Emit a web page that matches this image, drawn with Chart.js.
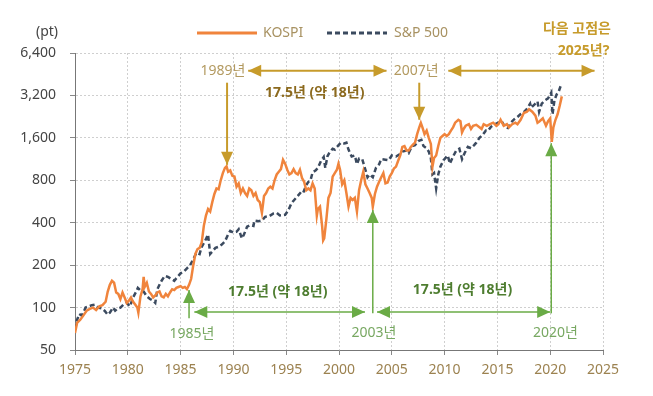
<!DOCTYPE html>
<html>
<head>
<meta charset="utf-8">
<script src="https://cdn.jsdelivr.net/npm/chart.js@4"></script>
<style>
  html, body { margin: 0; padding: 0; background: #fff; }
</style>
</head>
<body>
<canvas id="chart" width="653" height="396"></canvas>
<script>
// KOSPI (orange, solid)
const kospiYears = [
  1975.0, 1975.2, 1975.5, 1975.8, 1976.1, 1976.4, 1976.7, 1977.0, 1977.3, 1977.6, 1977.9,
  1978.1, 1978.3, 1978.5, 1978.7, 1978.9, 1979.1, 1979.3, 1979.5, 1979.7, 1979.9,
  1980.1, 1980.3, 1980.5, 1980.7, 1980.9, 1981.0, 1981.2, 1981.4, 1981.5, 1981.6, 1981.8,
  1982.0, 1982.2, 1982.4, 1982.6, 1982.8, 1983.0, 1983.2, 1983.4, 1983.6, 1983.8,
  1984.0, 1984.2, 1984.4, 1984.6, 1984.8, 1985.0, 1985.2, 1985.4, 1985.6, 1985.8,
  1986.0, 1986.2, 1986.4, 1986.6, 1986.8, 1987.0, 1987.2, 1987.4, 1987.6, 1987.8,
  1988.0, 1988.2, 1988.4, 1988.6, 1988.8, 1989.0, 1989.2, 1989.35, 1989.5, 1989.7, 1989.9,
  1990.1, 1990.3, 1990.5, 1990.7, 1990.9, 1991.1, 1991.3, 1991.5, 1991.7, 1991.9,
  1992.1, 1992.3, 1992.5, 1992.7, 1992.9, 1993.1, 1993.3, 1993.5, 1993.7, 1993.9,
  1994.1, 1994.3, 1994.5, 1994.7, 1994.9, 1995.1, 1995.3, 1995.5, 1995.7, 1995.9,
  1996.1, 1996.3, 1996.5, 1996.7, 1996.9, 1997.1, 1997.3, 1997.5, 1997.7, 1997.9,
  1998.0, 1998.2, 1998.4, 1998.5, 1998.6, 1998.8, 1999.0, 1999.2, 1999.4, 1999.6, 1999.8, 1999.95,
  2000.1, 2000.3, 2000.5, 2000.7, 2000.9, 2001.1, 2001.3, 2001.5, 2001.7, 2001.9,
  2002.1, 2002.3, 2002.5, 2002.7, 2002.9, 2003.1, 2003.2, 2003.4, 2003.6, 2003.8,
  2004.0, 2004.2, 2004.4, 2004.6, 2004.8, 2005.0, 2005.2, 2005.4, 2005.6, 2005.8,
  2006.0, 2006.2, 2006.4, 2006.6, 2006.8, 2007.0, 2007.2, 2007.4, 2007.6, 2007.75, 2007.9,
  2008.1, 2008.3, 2008.5, 2008.7, 2008.85, 2009.0, 2009.2, 2009.4, 2009.6, 2009.8,
  2010.0, 2010.2, 2010.4, 2010.6, 2010.8, 2011.0, 2011.3, 2011.5, 2011.65, 2011.8,
  2012.0, 2012.3, 2012.5, 2012.7, 2013.0, 2013.3, 2013.5, 2013.7, 2014.0, 2014.3, 2014.6, 2014.9,
  2015.1, 2015.3, 2015.6, 2015.9, 2016.1, 2016.4, 2016.7, 2016.9, 2017.2, 2017.5, 2017.8,
  2018.0, 2018.3, 2018.6, 2018.8, 2019.0, 2019.3, 2019.6, 2019.8, 2020.0, 2020.15, 2020.3,
  2020.5, 2020.7, 2020.9, 2021.1
];
const kospiValues = [
  66, 78, 82, 88, 95, 98, 100, 96, 102, 104, 110,
  130, 145, 155, 150, 128, 125, 115, 128, 118, 108,
  112, 118, 110, 105, 100, 92, 120, 135, 165, 140, 150,
  130, 125, 118, 122, 128, 130, 120, 118, 125, 120,
  128, 135, 133, 138, 140, 142, 138, 140, 135, 145,
  160, 200, 240, 260, 265, 290, 380, 450, 500, 480,
  560, 640, 700, 690, 800, 900, 980, 1005, 920, 940, 860,
  850, 720, 760, 650, 700, 650, 620, 700, 680, 620,
  650, 580, 560, 470, 620, 650, 700, 720, 700, 800,
  880, 920, 960, 1120, 1050, 950, 880, 900, 960, 900,
  880, 950, 830, 780, 680, 700, 680, 760, 700, 450,
  500, 520, 380, 300, 310, 420, 600, 650, 850, 900, 950, 1050,
  950, 750, 800, 650, 520, 600, 580, 600, 480, 680,
  800, 920, 750, 700, 650, 600, 520, 640, 720, 780,
  840, 900, 760, 770, 850, 900, 970, 1000, 1100, 1200,
  1380, 1400, 1300, 1300, 1380, 1430, 1480, 1700, 1900, 2040, 1900,
  1700, 1800, 1600, 1450, 1000, 1150, 1200, 1400, 1600, 1650,
  1700, 1650, 1700, 1800, 1900, 2050, 2150, 2100, 1750, 1850,
  1950, 2000, 1850, 1950, 1980, 1900, 1850, 2000, 1950, 2000, 2050, 1950,
  2000, 2150, 1950, 2000, 1900, 2000, 2050, 2000, 2150, 2400, 2450,
  2550, 2450, 2300, 2050, 2100, 2200, 1950, 2100, 2200, 1500, 1900,
  2150, 2350, 2700, 3150
];

// S&P 500 (navy, dashed)
const spYears = [
  1975.0, 1975.2, 1975.4, 1975.6, 1975.8, 1976.0, 1976.3, 1976.6, 1976.9, 1977.2, 1977.5, 1977.8,
  1978.1, 1978.3, 1978.6, 1978.8, 1979.0, 1979.3, 1979.6, 1979.9, 1980.2, 1980.5, 1980.8, 1980.95,
  1981.2, 1981.5, 1981.8, 1982.1, 1982.4, 1982.6, 1982.8, 1983.0, 1983.2, 1983.5, 1983.8,
  1984.1, 1984.4, 1984.7, 1985.0, 1985.3, 1985.6, 1985.9, 1986.2, 1986.5, 1986.8,
  1987.0, 1987.3, 1987.6, 1987.8, 1988.0, 1988.3, 1988.6, 1988.9, 1989.2, 1989.5, 1989.7,
  1990.0, 1990.3, 1990.5, 1990.8, 1991.0, 1991.3, 1991.6, 1991.9, 1992.0, 1992.4, 1992.7,
  1993.0, 1993.4, 1993.8, 1994.1, 1994.4, 1994.9, 1995.2, 1995.5, 1995.8,
  1996.1, 1996.4, 1996.6, 1996.9, 1997.1, 1997.3, 1997.5, 1997.8, 1998.0, 1998.3, 1998.55, 1998.7, 1998.9,
  1999.1, 1999.4, 1999.6, 1999.8, 2000.0, 2000.2, 2000.5, 2000.7, 2000.9,
  2001.2, 2001.5, 2001.7, 2001.9, 2002.2, 2002.5, 2002.7, 2002.9, 2003.2, 2003.5, 2003.8,
  2004.0, 2004.4, 2004.7, 2005.0, 2005.4, 2005.8, 2006.0, 2006.4, 2006.6, 2006.9,
  2007.2, 2007.5, 2007.8, 2008.0, 2008.3, 2008.5, 2008.7, 2008.85, 2009.0, 2009.2, 2009.4, 2009.6, 2009.9,
  2010.3, 2010.5, 2010.8, 2011.1, 2011.4, 2011.65, 2011.9, 2012.2, 2012.5, 2012.8,
  2013.0, 2013.3, 2013.6, 2013.9, 2014.1, 2014.4, 2014.8, 2015.1, 2015.4, 2015.7,
  2016.0, 2016.3, 2016.6, 2016.9, 2017.2, 2017.5, 2017.8, 2018.1, 2018.2, 2018.5, 2018.8, 2018.95,
  2019.2, 2019.5, 2019.8, 2020.1, 2020.22, 2020.4, 2020.6, 2020.8, 2021.0
];
const spValues = [
  70, 82, 90, 88, 92, 100, 102, 104, 105, 100, 99, 95,
  89, 92, 100, 95, 98, 100, 105, 108, 102, 118, 130, 138,
  132, 130, 120, 115, 112, 108, 135, 145, 155, 168, 165,
  160, 155, 165, 175, 180, 190, 200, 220, 245, 240,
  270, 295, 330, 240, 250, 265, 270, 280, 295, 330, 350,
  340, 345, 360, 310, 330, 375, 385, 380, 415, 410, 415,
  440, 445, 465, 470, 450, 455, 490, 550, 585,
  620, 660, 650, 740, 780, 800, 910, 940, 980, 1100, 1170, 980, 1180,
  1260, 1340, 1320, 1380, 1430, 1480, 1460, 1480, 1320,
  1180, 1200, 1040, 1140, 1130, 950, 840, 880, 840, 980, 1040,
  1130, 1120, 1110, 1200, 1180, 1230, 1280, 1300, 1250, 1400,
  1420, 1520, 1550, 1400, 1350, 1280, 1150, 880, 900, 700, 880, 1000, 1110,
  1200, 1050, 1180, 1300, 1340, 1130, 1250, 1380, 1350, 1420,
  1480, 1600, 1680, 1800, 1790, 1920, 2000, 2050, 2100, 1920,
  1880, 2060, 2170, 2250, 2360, 2440, 2570, 2800, 2620, 2750, 2900, 2450,
  2800, 2950, 3050, 3350, 2350, 2950, 3250, 3400, 3750
];

const yTicks = [50, 100, 200, 400, 800, 1600, 3200, 6400];
const xTicks = [1975, 1980, 1985, 1990, 1995, 2000, 2005, 2010, 2015, 2020, 2025];

const FONT = "'Noto Sans', 'Noto Sans CJK KR', sans-serif";
const ORANGE = "#f0843c";
const NAVY = "#3b4a5f";
const GOLD = "#c79b2b";
const GOLD_TEXT = "#b39a60";
const GOLD_BOLD = "#8c6a1e";
const GREEN = "#6aab46";
const GREEN_TEXT = "#78a862";
const GREEN_BOLD = "#4e7d30";

function toPoints(xs, ys) {
  return xs.map((x, i) => ({ x: x, y: ys[i] }));
}

function drawHead(ctx, x1, y1, x2, y2) {
  const len = 13, half = 6;
  const a = Math.atan2(y2 - y1, x2 - x1);
  const bx = x2 - len * Math.cos(a), by = y2 - len * Math.sin(a);
  ctx.beginPath();
  ctx.moveTo(x2, y2);
  ctx.lineTo(bx + half * Math.sin(a), by - half * Math.cos(a));
  ctx.lineTo(bx - half * Math.sin(a), by + half * Math.cos(a));
  ctx.closePath();
  ctx.fill();
}

// from/to are [year, value]; both = heads at both ends
function drawArrow(chart, from, to, color, both, width) {
  const ctx = chart.ctx, xs = chart.scales.x, ys = chart.scales.y;
  const x1 = xs.getPixelForValue(from[0]), y1 = ys.getPixelForValue(from[1]);
  const x2 = xs.getPixelForValue(to[0]), y2 = ys.getPixelForValue(to[1]);
  ctx.save();
  ctx.strokeStyle = color;
  ctx.fillStyle = color;
  ctx.lineWidth = width;
  ctx.beginPath();
  ctx.moveTo(x1, y1);
  ctx.lineTo(x2, y2);
  ctx.stroke();
  drawHead(ctx, x1, y1, x2, y2);
  if (both) drawHead(ctx, x2, y2, x1, y1);
  ctx.restore();
}

function drawLabel(chart, text, at, color, bold, align) {
  const ctx = chart.ctx;
  ctx.save();
  ctx.font = (bold ? "bold " : "") + "14px " + FONT;
  ctx.fillStyle = color;
  ctx.textAlign = align || "center";
  ctx.textBaseline = "middle";
  ctx.fillText(text, chart.scales.x.getPixelForValue(at[0]), chart.scales.y.getPixelForValue(at[1]));
  ctx.restore();
}

const annotationPlugin = {
  id: "annotations",
  afterDraw(chart) {
    const ctx = chart.ctx;

    // legend
    ctx.save();
    ctx.lineWidth = 3;
    ctx.strokeStyle = ORANGE;
    ctx.beginPath();
    ctx.moveTo(197, 33);
    ctx.lineTo(257, 33);
    ctx.stroke();
    ctx.strokeStyle = NAVY;
    ctx.setLineDash([5, 3]);
    ctx.beginPath();
    ctx.moveTo(327, 33);
    ctx.lineTo(387, 33);
    ctx.stroke();
    ctx.setLineDash([]);
    ctx.font = "14px " + FONT;
    ctx.fillStyle = "#a89262";
    ctx.textBaseline = "middle";
    ctx.fillText("KOSPI", 263, 33);
    ctx.fillText("S&P 500", 394, 33);
    ctx.fillStyle = "#444";
    ctx.textAlign = "center";
    ctx.fillText("(pt)", 47, 32);
    ctx.restore();

    // gold: 1989 -> 2007 -> 2025?
    drawArrow(chart, [1989.4, 3940], [1989.4, 1030], GOLD, false, 2);
    drawArrow(chart, [2007.6, 3940], [2007.6, 2150], GOLD, false, 2);
    drawArrow(chart, [1991.4, 4785], [2004.5, 4785], GOLD, true, 2);
    drawArrow(chart, [2010.35, 4785], [2024.2, 4785], GOLD, true, 2);
    drawLabel(chart, "1989년", [1989.0, 4785], GOLD_TEXT, false);
    drawLabel(chart, "2007년", [2007.3, 4785], GOLD_TEXT, false);
    drawLabel(chart, "17.5년 (약 18년)", [1997.7, 3320], GOLD_BOLD, true);
    drawLabel(chart, "다음 고점은", [2025.75, 9460], GOLD, true, "right");
    drawLabel(chart, "2025년?", [2025.6, 6560], GOLD, true, "right");

    // green: 1985 -> 2003 -> 2020
    drawArrow(chart, [1985.8, 84], [1985.8, 133], GREEN, false, 1.5);
    drawArrow(chart, [2003.2, 91], [2003.2, 493], GREEN, false, 1.5);
    drawArrow(chart, [2020.1, 91], [2020.1, 1467], GREEN, false, 1.5);
    drawArrow(chart, [1986.3, 93], [2002.46, 93], GREEN, true, 1.5);
    drawArrow(chart, [2003.6, 93], [2020.0, 93], GREEN, true, 1.5);
    drawLabel(chart, "1985년", [1986.07, 65], GREEN_TEXT, false);
    drawLabel(chart, "2003년", [2003.3, 66], GREEN_TEXT, false);
    drawLabel(chart, "2020년", [2020.5, 66], GREEN_TEXT, false);
    drawLabel(chart, "17.5년 (약 18년)", [1994.2, 129], GREEN_BOLD, true);
    drawLabel(chart, "17.5년 (약 18년)", [2011.7, 133], GREEN_BOLD, true);
  }
};

const ctx = document.getElementById("chart").getContext("2d");
new Chart(ctx, {
  type: "line",
  data: {
    datasets: [
      {
        label: "KOSPI",
        data: toPoints(kospiYears, kospiValues),
        borderColor: ORANGE,
        borderWidth: 2.5,
        pointRadius: 0,
        tension: 0,
        fill: false,
      },
      {
        label: "S&P 500",
        data: toPoints(spYears, spValues),
        borderColor: NAVY,
        borderWidth: 2.5,
        borderDash: [5, 3],
        pointRadius: 0,
        tension: 0,
        fill: false,
      },
    ],
  },
  options: {
    responsive: false,
    animation: false,
    devicePixelRatio: 1,
    layout: { padding: { top: 53, right: 50, left: 0, bottom: 0 } },
    plugins: {
      legend: { display: false },
      tooltip: { enabled: false },
    },
    scales: {
      x: {
        type: "linear",
        min: 1975,
        max: 2025,
        afterBuildTicks: (axis) => { axis.ticks = xTicks.map((v) => ({ value: v })); },
        afterFit: (axis) => { axis.height = 46; },
        ticks: {
          callback: (v) => String(v),
          color: "#9c8250",
          font: { family: FONT, size: 14 },
          padding: 7,
          maxRotation: 0,
        },
        grid: { color: "#cfcfcf", tickLength: 5, tickColor: "#888", tickBorderDash: [] },
        border: { display: true, color: "#777", width: 1, dash: [2, 2] },
      },
      y: {
        type: "logarithmic",
        min: 50,
        max: 6400,
        afterBuildTicks: (axis) => { axis.ticks = yTicks.map((v) => ({ value: v })); },
        afterFit: (axis) => { axis.width = 75; },
        ticks: {
          callback: (v) => Number(v).toLocaleString("en-US"),
          color: "#444",
          font: { family: FONT, size: 14 },
          padding: 14,
        },
        grid: { color: "#cfcfcf", tickLength: 5, tickColor: "#888", tickBorderDash: [] },
        border: { display: true, color: "#777", width: 1, dash: [2, 2] },
      },
    },
  },
  plugins: [annotationPlugin],
});
</script>
</body>
</html>
